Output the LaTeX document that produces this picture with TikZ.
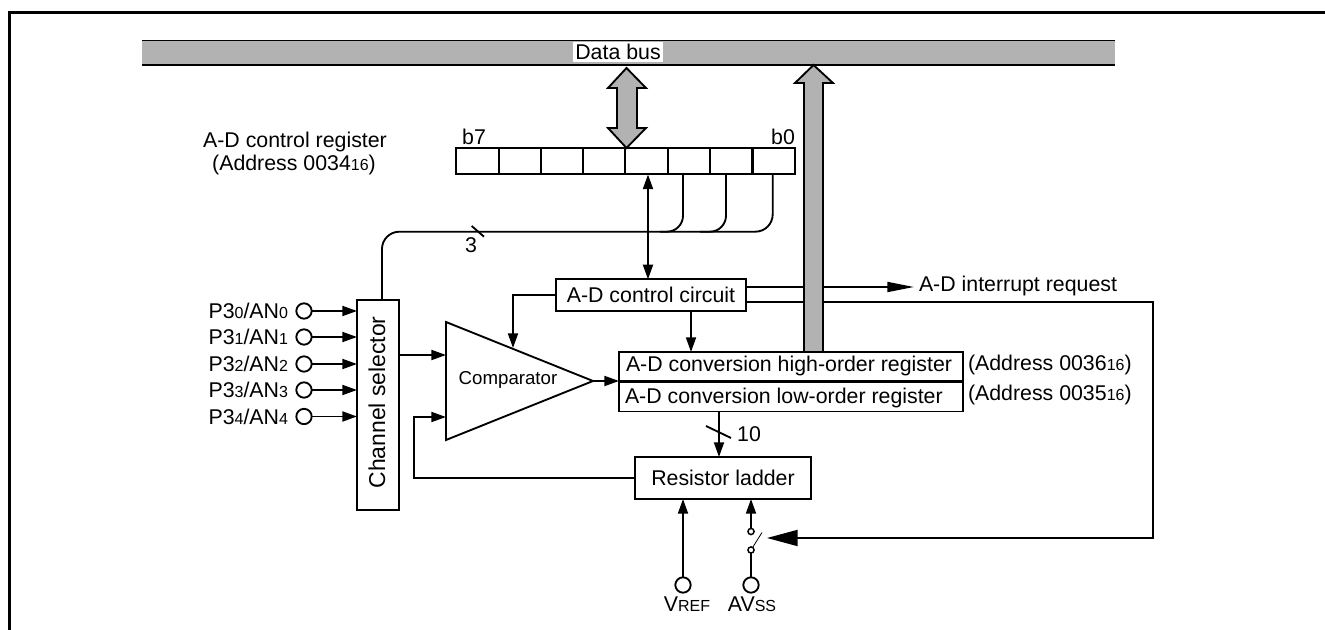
\documentclass[tikz,border=0pt]{standalone}
\usepackage{fontspec}
\setmainfont{Liberation Sans}
\usetikzlibrary{arrows.meta}
\newcommand{\sm}[1]{{\fontsize{12pt}{14pt}\selectfont #1}}
\tikzset{
  x=0.75pt,y=-0.75pt,
  every node/.style={font=\fontsize{16pt}{18pt}\selectfont,inner sep=0pt,outer sep=0pt},
  conn/.style={line width=1.4pt,line join=miter},
  arr/.style={conn,-{Triangle[length=11pt,width=7.5pt]}},
  darr/.style={conn,{Triangle[length=11pt,width=7.5pt]}-{Triangle[length=11pt,width=7.5pt]}},
  box/.style={draw,line width=1.4pt,fill=white,minimum width=0pt,minimum height=0pt},
  cell/.style={box,minimum width=31.7pt,minimum height=19.3pt},
  pin/.style={circle,draw,line width=1.4pt,fill=white,minimum size=11.5pt},
  tiny/.style={circle,draw,line width=1.1pt,fill=white,minimum size=4.6pt},
  busfill/.style={draw,line width=1.4pt,fill=black!30},
}
\begin{document}
\begin{tikzpicture}
\useasboundingbox (0,0) rectangle (1325,630);
% frame
\coordinate (fbl) at (9.5,630); \coordinate (ftl) at (9.5,12.3);
\coordinate (ftr) at (1325,12.3);
\draw[line width=1.9pt] (fbl) -- (ftl) -- (ftr);
% data bus
\fill[black!30] (142,40.5) rectangle (1115,65);
\draw[line width=1.4pt] (142,40.5) -- (1115,40.5) (142,65) -- (1115,65);
\node[fill=white,minimum width=67pt,minimum height=15pt] (bus) at (618,52) {Data bus};
% register cells
\foreach \i/\cx in {7/477.5,6/519.7,5/562,4/604,3/646.5,2/689,1/731,0/773.7}
  \node[cell] (r\i) at (\cx,161) {};
\node[anchor=base] (b7) at (474,145) {b7};
\node[anchor=base] (b0) at (783,145) {b0};
\node (ctitle) at (295,142) {A-D control register};
\node (caddr) at (294,165) {(Address 0034\sm{16})};
% blocks
\node[box,minimum width=143pt,minimum height=23.5pt] (ctrl) at (651,295) {A-D control circuit};
\node[box,minimum width=258pt,minimum height=21.7pt] (lo) at (791,397) {};
\node[anchor=west] (lot) at (625,398) {A-D conversion low-order register};
\node[box,minimum width=132pt,minimum height=31.5pt] (lad) at (723,478) {Resistor ladder};
\node[box,minimum width=31.5pt,minimum height=157.5pt] (sel) at (378,405) {};
\node[rotate=90,font=\fontsize{17.2pt}{19pt}\selectfont] (selt) at (377,402.5) {Channel selector};
\node[anchor=west] (ah) at (968,365) {(Address 0036\sm{16})};
\node[anchor=west] (al) at (968,395) {(Address 0035\sm{16})};
% comparator
\coordinate (cpa) at (446,322); \coordinate (cpb) at (446,440); \coordinate (cpc) at (593,381);
\draw[conn,fill=white] (cpa) -- (cpc) -- (cpb) -- cycle;
\node[font=\fontsize{14pt}{16pt}\selectfont] (cpt) at (508,380) {Comparator};
% inputs
\foreach \n/\y in {0/311,1/337,2/364,3/390,4/416.5}{
  \node[pin] (in\n) at (304,\y) {};
  \node[anchor=east] (t\n) at (288,\y) {P3\sm{\n}/AN\sm{\n}};
  \coordinate (se\n) at (357,\y);
  \draw[arr] (in\n) -- (se\n);
}
% cp connections
\coordinate (cin1) at (446,355); \coordinate (cin2) at (446,417);
\coordinate (cout) at (619,381);
\draw[arr] (sel.east |- cin1) -- (cin1);
\draw[arr] (lad.west) -| (414,417) -- (cin2);
\coordinate (ctop) at (513,348);
\draw[arr] (ctrl.west) -| (ctop);
\draw[arr] (cpc) -- (cout);
% bit lines
\coordinate (b0bend) at (772.7,231.7); \coordinate (selup) at (382,300);
\draw[conn,rounded corners=13pt] (772.7,175) -- (b0bend) -- (382,231.7) -- (selup);
\draw[conn,rounded corners=12pt] (726,175) -- (726,231.7) -- (700,231.7);
\draw[conn,rounded corners=12pt] (683,175) -- (683,231.7) -- (660,231.7);
\coordinate (tk3a) at (471.7,226); \coordinate (tk3b) at (484,236.7);
\draw[conn] (tk3a) -- (tk3b);
\node (n3) at (471,245) {3};
% control <-> register
\coordinate (ctlreg) at (648,174.5);
\draw[darr] (ctlreg) -- (ctlreg |- ctrl.north);
% outputs of control
\coordinate (intr) at (914,287);
\draw[conn,-{Triangle[length=20pt,width=7.5pt]}] (ctrl.east |- intr) -- (intr);
\node[anchor=west] (intt) at (919,286) {A-D interrupt request};
\coordinate (rc) at (1153,302); \coordinate (rd) at (1153,538); \coordinate (swtip) at (767,538);
\draw[conn,-{Triangle[length=23pt,width=12pt]}] (ctrl.east |- rc) -- (rc) -- (rd) -- (swtip);
% high-order bus arrow
\draw[busfill] (804,352) -- (804,83) -- (795,83) -- (813.5,65) -- (833,83) -- (823,83) -- (823,352);
% control reg bus double arrow
\draw[busfill] (617,88) -- (608,88) -- (626.5,68) -- (646,88) -- (637,88) -- (637,128) -- (646,128) -- (626.5,148) -- (608,128) -- (617,128) -- cycle;
% high-order register, over the bar
\node[box,minimum width=258pt,minimum height=21.7pt] (hi) at (791,366.5) {};
\node[anchor=west] (hit) at (626,366) {A-D conversion high-order register};
\draw[arr] (691,312) -- (691,352);
% 10 line
\draw[arr] (lo.south -| 719,411) -- (lad.north -| 719,457);
\coordinate (tkb) at (706,426); \coordinate (tkc) at (731,438);
\draw[conn] (tkb) -- (tkc);
\node (n10) at (749,434) {10};
% bottom pins
\node[pin] (vref) at (683,585) {};
\node[pin] (avss) at (751,585) {};
\node[anchor=base] (vt) at (687,612) {V\sm{REF}};
\node[anchor=base] (at) at (752,612) {AV\sm{SS}};
\draw[arr] (vref) -- (vref |- lad.south);
\node[tiny] (sa) at (751,531.5) {};
\node[tiny] (sb) at (751,550) {};
\draw[arr] (sa) -- (sa |- lad.south);
\draw[conn] (avss) -- (sb);
\coordinate (blade) at (762,532.5);
\draw[line width=0.6pt] (sb) -- (blade);
\end{tikzpicture}
\end{document}
